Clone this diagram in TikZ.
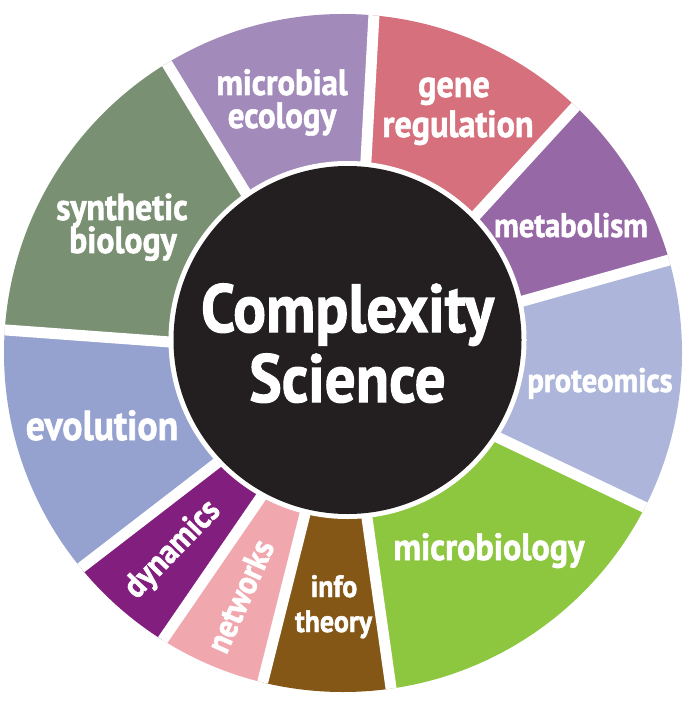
\documentclass[tikz,border=0pt]{standalone}
\usepackage{fontspec}
\setmainfont{PT Sans}[FakeStretch=0.9, FakeBold=1.5]
\usetikzlibrary{calc}
\definecolor{cMicEco}{HTML}{A28BBA}
\definecolor{cGene}{HTML}{D5707C}
\definecolor{cMeta}{HTML}{9668A6}
\definecolor{cProt}{HTML}{ADB5DB}
\definecolor{cMicBio}{HTML}{8DC63F}
\definecolor{cInfo}{HTML}{845716}
\definecolor{cNet}{HTML}{F0A8AE}
\definecolor{cDyn}{HTML}{821E7E}
\definecolor{cEvo}{HTML}{95A2D0}
\definecolor{cSyn}{HTML}{7A9073}
\definecolor{cCore}{HTML}{231F20}
\tikzset{
  lab/.style={text=white, inner sep=0pt, font=\bfseries\fontsize{#1}{#1}\selectfont},
  lab/.default=32,
  gap/.style={white, line width=11pt},
}
\begin{document}
\begin{tikzpicture}[x=1pt, y=-1pt]
\useasboundingbox (0,0) rectangle (687,708);
% center of core
\coordinate (C) at (347.5,340);
% dividers: inner and outer points
\coordinate (i1) at (244,190);  \coordinate (o1) at (166,62);
\coordinate (i2) at (366,160);  \coordinate (o2) at (374,14);
\coordinate (i3) at (478,213);  \coordinate (o3) at (577,105);
\coordinate (i4) at (523,301);  \coordinate (o4) at (669,260);
\coordinate (i5) at (497,437);  \coordinate (o5) at (644,507);
\coordinate (i6) at (367,518);  \coordinate (o6) at (391,688);
\coordinate (i7) at (305,514);  \coordinate (o7) at (262,685);
\coordinate (i8) at (261,497);  \coordinate (o8) at (162,641);
\coordinate (i9) at (217,463);  \coordinate (o9) at (82,567);
\coordinate (i10) at (170,342); \coordinate (o10) at (6,330);
\foreach \k in {1,...,10}{
  \coordinate (f\k) at ($(i\k)!2.5!(o\k)$);
  \coordinate (b\k) at ($(o\k)!1.4!(i\k)$);
}
\begin{scope}
  \clip (343,353) circle[radius=339pt];
  \fill[cMicEco] (C) -- (i1) -- (f1) -- (f2) -- (i2) -- cycle;
  \fill[cGene]   (C) -- (i2) -- (f2) -- (f3) -- (i3) -- cycle;
  \fill[cMeta]   (C) -- (i3) -- (f3) -- (f4) -- (i4) -- cycle;
  \fill[cProt]   (C) -- (i4) -- (f4) -- (f5) -- (i5) -- cycle;
  \fill[cMicBio] (C) -- (i5) -- (f5) -- (f6) -- (i6) -- cycle;
  \fill[cInfo]   (C) -- (i6) -- (f6) -- (f7) -- (i7) -- cycle;
  \fill[cNet]    (C) -- (i7) -- (f7) -- (f8) -- (i8) -- cycle;
  \fill[cDyn]    (C) -- (i8) -- (f8) -- (f9) -- (i9) -- cycle;
  \fill[cEvo]    (C) -- (i9) -- (f9) -- (f10) -- (i10) -- cycle;
  \fill[cSyn]    (C) -- (i10) -- (f10) -- (f1) -- (i1) -- cycle;
  \foreach \k in {1,...,10}{
    \draw[gap] (b\k) -- (f\k);
  }
\end{scope}
\fill[white] (C) circle[radius=179pt];
\fill[cCore] (C) circle[radius=174pt];
% labels
\node[lab=36.5, anchor=base] (mic1) at (282,95) {microbial};
\node[lab=36.5, anchor=base] (mic2) at (282,128) {ecology};
\node[lab=38, anchor=base] (gen1) at (454,97) {gene};
\node[lab=38, anchor=base] (gen2) at (458,137) {regulation};
\node[lab=34, anchor=base] (met) at (571,237) {metabolism};
\node[lab=34, anchor=base] (pro) at (600,392) {proteomics};
\node[lab=38, anchor=base] (mbi) at (489,560) {microbiology};
\node[lab=31, anchor=base] (inf1) at (334,597) {info};
\node[lab=31, anchor=base] (inf2) at (333.5,632) {theory};
\node[lab=34, rotate=66] (net) at (240,596) {networks};
\node[lab=34, rotate=46] (dyn) at (173,550) {dynamics};
\node[lab=42, anchor=base] (evo) at (102,440) {evolution};
\node[lab=37.5, anchor=base] (syn1) at (122,220) {synthetic};
\node[lab=37.5, anchor=base] (syn2) at (123,253) {biology};
\node[lab=68, anchor=base] (cx1) at (347.5,332) {Complexity};
\node[lab=68, anchor=base] (cx2) at (347.5,402) {Science};
\end{tikzpicture}
\end{document}
